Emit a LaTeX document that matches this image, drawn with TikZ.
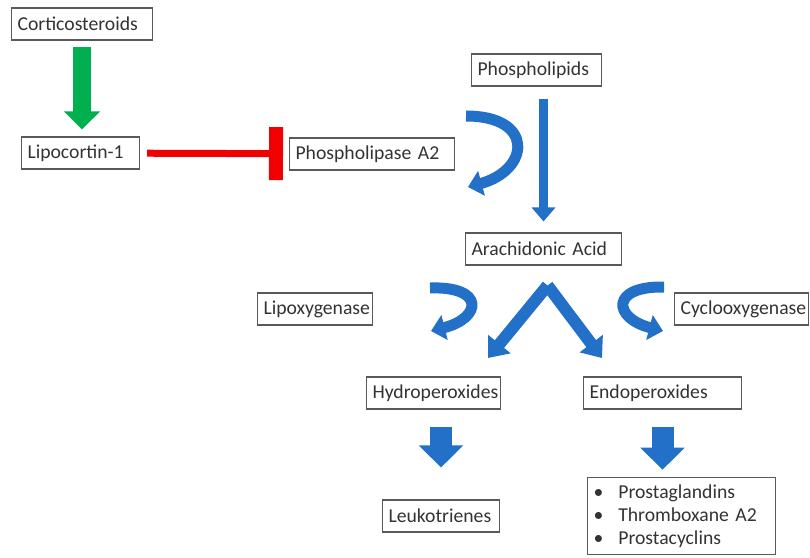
\documentclass[tikz,border=0pt]{standalone}
\usepackage{fontspec}
\setmainfont{Carlito}
\usetikzlibrary{arrows.meta,positioning,calc}
\definecolor{Blue}{HTML}{2270C8}
\definecolor{Green}{HTML}{00B050}
\definecolor{Red}{HTML}{F00000}
\definecolor{Frame}{HTML}{595959}

\begin{document}
\begin{tikzpicture}
[x=.02cm,y=-.02cm,
every node/.style={font=\fontsize{11.2}{13}\selectfont,text=black!80},
box/.style={draw=Frame,line width=.6pt,fill=white,anchor=west,
    inner xsep=.12cm,inner ysep=0pt,minimum height=.64cm},
greenarrow/.style={Green,line width=.36cm,-{Triangle[width=.7cm,length=.36cm]}},
inhibit/.style={Red,line width=.14cm,-{Rectangle[width=1.06cm,length=.28cm]}},
thinarrow/.style={Blue,line width=.18cm,-{Triangle[width=.46cm,length=.28cm]}},
splitarrow/.style={Blue,line width=.24cm,-{Triangle[width=.56cm,length=.36cm]}},
fatarrow/.style={Blue,line width=.44cm,-{Triangle[width=.86cm,length=.44cm]}},
curlarrow/.style={Blue,line width=.22cm,-{Triangle[width=.5cm,length=.28cm]}}]

\useasboundingbox (0,0) rectangle (810,557);

%% inhibition branch
\node[box,text width=2.58cm] (cort) at (11,24) {Corticosteroids};
\node[box,text width=2.12cm] (lipo) at (21,153) {Lipocortin-1};
\node[box,text width=3.06cm] (pla) at (289,154) {Phospholipase A2};

\draw[greenarrow,shorten <=.12cm,shorten >=.14cm] (cort) -- (cort|-lipo.north);
\draw[inhibit,shorten <=.14cm,shorten >=.12cm] (lipo) -- (pla);

%% cascade
\node[box,text width=2.36cm] (phl) at (471,70) {Phospholipids};
\node[box,text width=2.88cm] (aa) at (465,249) {Arachidonic Acid};
\node[box,text width=2.06cm] (lox) at (257,309) {Lipoxygenase};
\node[box,text width=2.44cm] (cox) at (674,309) {Cyclooxygenase};
\node[box,text width=2.44cm] (hpx) at (366,393) {Hydroperoxides};
\node[box,text width=2.92cm] (epx) at (583,393) {Endoperoxides};
\node[box,text width=2.1cm] (ltr) at (382,516) {Leukotrienes};
\node[box,text width=3.52cm,inner ysep=.15cm] (prod) at (587,516)
{\textbullet\hspace{.3cm}Prostaglandins\\
\textbullet\hspace{.3cm}Thromboxane A2\\
\textbullet\hspace{.3cm}Prostacyclins};

\draw[thinarrow,shorten <=.24cm,shorten >=.22cm] (phl.south-|aa) -- (aa);

\coordinate (apex) at ($(aa.south)+(4,20)$);
\coordinate (hpxin) at (488,358);
\coordinate (epxin) at (602,358);
\draw[splitarrow] (apex) -- (hpxin);
\draw[splitarrow] (apex) -- (epxin);

\draw[fatarrow,shorten <=.34cm,shorten >=.64cm] (hpx.south-|ltr) -- (ltr);
\draw[fatarrow,shorten <=.34cm,shorten >=.14cm] (epx) -- (epx|-prod.north);

%% curved arrows beside the enzymes
\draw[curlarrow] (466,116) .. controls (535,116) and (530,170) .. (468,187);
\draw[curlarrow] (430,288) .. controls (485,286) and (482,318) .. (431,331);
\draw[curlarrow] (664,287) .. controls (610,286) and (613,318) .. (663,331);

\end{tikzpicture}
\end{document}
